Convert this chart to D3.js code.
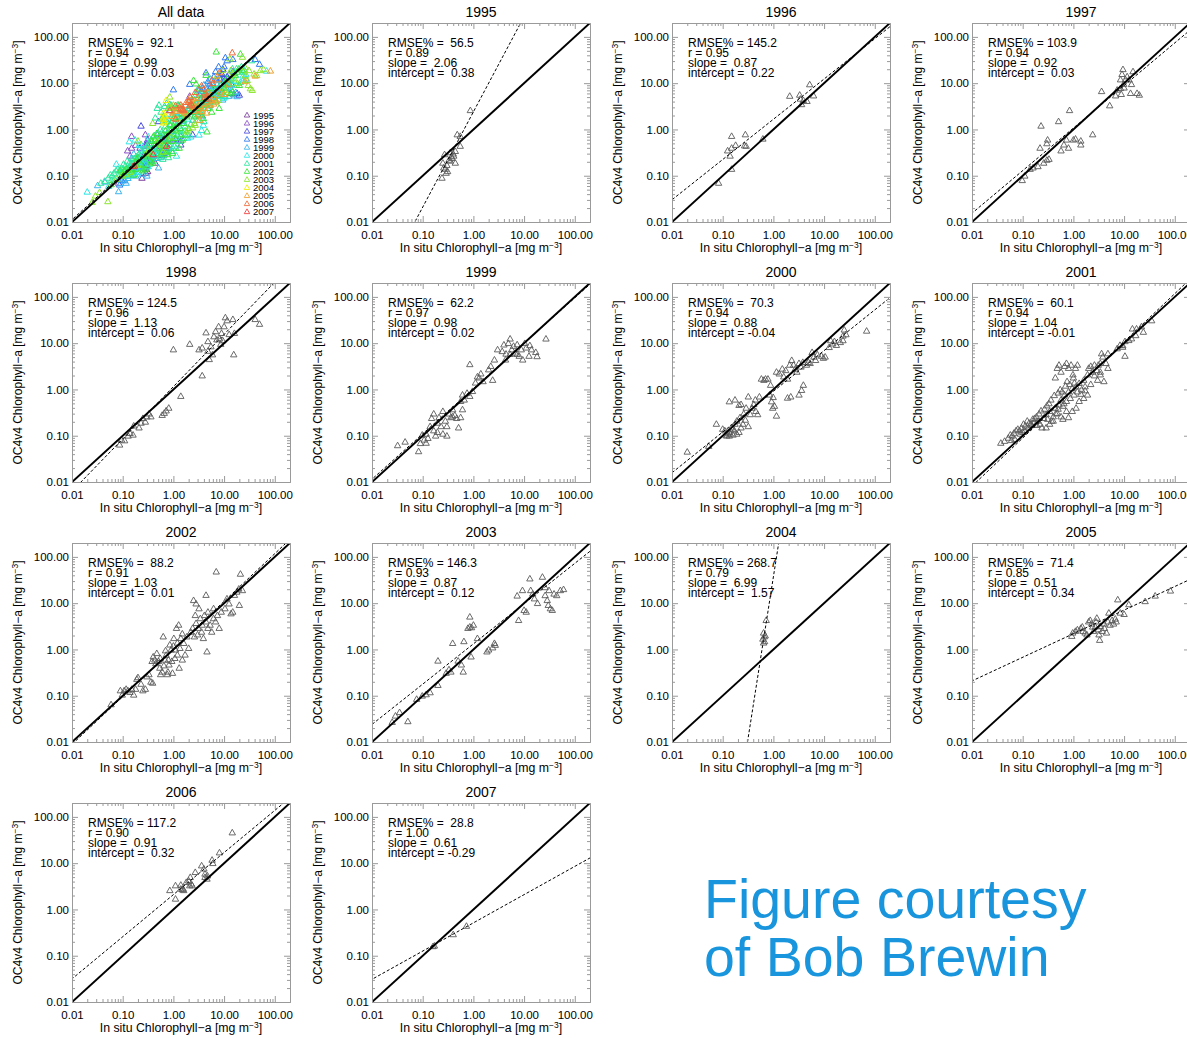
<!DOCTYPE html>
<html>
<head>
<meta charset="utf-8">
<script src="https://cdn.jsdelivr.net/npm/d3@7"></script>
<style>
  body { margin: 0; background: #fff; }
  svg text { font-family: "Liberation Sans", Arial, sans-serif; }
</style>
</head>
<body>
<svg id="chart" width="1187" height="1038"></svg>
<script>
// ---- data ----
const panelTitles = ["All data", "1995", "1996", "1997", "1998", "1999", "2000",
  "2001", "2002", "2003", "2004", "2005", "2006", "2007"];
const years = ["1995", "1996", "1997", "1998", "1999", "2000", "2001",
  "2002", "2003", "2004", "2005", "2006", "2007"];
const yearColors = ["#7a3c9a", "#8a4fc4", "#4a4ae0", "#2e78f0", "#3ab4f0", "#2ee6e6",
  "#2ee8a0", "#3ae63a", "#8ce62e", "#f0f000", "#f0a030", "#f06a3a", "#f03a3a"];
const rmse = [92.1, 56.5, 145.2, 103.9, 124.5, 62.2, 70.3, 60.1, 88.2, 146.3, 268.7, 71.4, 117.2, 28.8];
const rVals = [0.94, 0.89, 0.95, 0.94, 0.96, 0.97, 0.94, 0.94, 0.91, 0.93, 0.79, 0.85, 0.90, 1.00];
const slopes = [0.99, 2.06, 0.87, 0.92, 1.13, 0.98, 0.88, 1.04, 1.03, 0.87, 6.99, 0.51, 0.91, 0.61];
const intercepts = [0.03, 0.38, 0.22, 0.03, 0.06, 0.02, -0.04, -0.01, 0.01, 0.12, 1.57, 0.34, 0.32, -0.29];
const tickVals = [0.01, 0.1, 1, 10, 100];

const d1995 = [[0.87,2.6],[0.48,0.78],[0.55,0.72],[0.55,0.44],[0.35,0.32],[0.44,0.34],[0.41,0.27],
  [0.38,0.24],[0.33,0.22],[0.44,0.19],[0.30,0.17],[0.28,0.14],[0.31,0.125],[0.26,0.15],[0.25,0.19],
  [0.27,0.29],[0.24,0.09],[0.29,0.115],[0.35,0.21],[0.40,0.30],[0.37,0.26]];
const d1996 = [[0.083,0.07],[0.125,0.35],[0.15,0.72],[0.15,0.40],[0.18,0.46],[0.15,0.14],[0.28,0.78],
  [0.27,0.45],[0.29,0.44],[0.62,0.63],[2.1,5.3],[3.3,5.6],[3.4,4.6],[3.6,3.5],[4.6,4.1],[5.2,9.4],
  [6.2,5.4],[3.9,4.3],[0.14,0.27]];
const d1997 = [[0.098,0.08],[0.11,0.10],[0.14,0.14],[0.16,0.15],[0.20,0.16],[0.22,0.40],[0.23,1.2],
  [0.26,0.19],[0.30,0.22],[0.30,0.50],[0.31,0.60],[0.33,0.23],[0.51,1.5],[0.57,0.35],[0.65,0.47],
  [0.73,0.60],[0.80,0.40],[0.84,2.6],[1.0,0.60],[1.1,0.63],[1.4,0.57],[1.4,0.47],[2.4,0.78],[3.6,6.7],
  [5.2,3.3],[6.8,5.4],[7.3,7.2],[8.5,12],[9.1,15.7],[9.5,20],[9.8,9.6],[8.8,5.8],[10.7,12],[11.5,14],
  [12.5,12],[13.4,6.1],[15,18],[18,6.1],[20,5.6],[14,9.5],[10,8],[8.5,7.8]];
const d1998 = [[0.087,0.064],[0.095,0.082],[0.109,0.079],[0.128,0.10],[0.14,0.114],[0.16,0.105],
  [0.165,0.165],[0.21,0.15],[0.23,0.19],[0.25,0.24],[0.28,0.20],[0.30,0.26],[0.33,0.30],[0.36,0.26],
  [0.60,0.28],[0.66,0.31],[0.72,0.35],[0.81,0.40],[1.4,0.72],[1.0,7.3],[2.1,9.6],[3.7,2.0],[3.2,7.3],
  [3.7,8],[4.4,17],[4.8,6.8],[5.1,4.5],[4.8,11],[5.5,8.5],[5.9,5.7],[6.3,14],[6.8,18],[7.2,12],
  [7.8,23],[8.2,12.6],[8.6,9.6],[8.9,16.5],[9.4,11.5],[10,23],[10.6,36],[11.5,31],[12.6,15.6],
  [14.9,33],[15.5,5.7],[16,16.5],[41,33],[50,26]];
const d1999 = [[0.032,0.062],[0.045,0.074],[0.083,0.046],[0.09,0.069],[0.098,0.105],[0.107,0.082],
  [0.117,0.11],[0.127,0.089],[0.14,0.16],[0.15,0.24],[0.165,0.30],[0.165,0.13],[0.18,0.10],[0.195,0.19],
  [0.21,0.25],[0.23,0.16],[0.25,0.34],[0.28,0.21],[0.30,0.16],[0.33,0.30],[0.36,0.25],[0.39,0.37],
  [0.43,0.28],[0.47,0.24],[0.51,0.15],[0.56,0.25],[0.61,0.37],[0.117,0.07],[0.195,0.12],[0.25,0.11],
  [0.30,0.10],[0.39,0.26],[0.56,0.56],[0.66,0.60],[0.61,0.77],[0.75,0.84],[0.85,0.72],[0.96,0.92],
  [0.85,3.5],[1.1,1.4],[1.2,1.9],[1.3,1.8],[1.4,2.2],[1.55,1.5],[2.0,2.7],[2.2,3.2],[2.4,1.6],
  [2.6,4.4],[3.0,7.3],[3.7,6.7],[4.0,9.3],[4.3,4.4],[4.4,5.9],[4.9,10],[5.3,12.5],[5.7,7.3],
  [6.2,8.7],[6.7,6.2],[7.3,9.4],[8.0,5.3],[8.8,7.3],[9.4,4.4],[10.3,10],[11,8],[12.5,5.3],[13,9],
  [14,7.3],[17,6.4],[18,5.2],[27,12.5],[7.3,5.8],[5.3,5.8]];
const d2000 = [[0.02,0.045],[0.053,0.06],[0.075,0.18],[0.10,0.14],[0.11,0.13],[0.115,0.105],
  [0.125,0.115],[0.135,0.12],[0.148,0.15],[0.16,0.14],[0.175,0.18],[0.19,0.21],[0.135,0.10],
  [0.16,0.105],[0.19,0.11],[0.21,0.12],[0.23,0.15],[0.25,0.18],[0.28,0.22],[0.32,0.16],[0.135,0.55],
  [0.175,0.60],[0.21,0.46],[0.23,0.48],[0.32,0.70],[0.35,0.29],[0.38,0.40],[0.41,0.48],[0.45,0.34],
  [0.49,0.29],[0.53,0.70],[0.58,1.7],[0.65,1.6],[0.70,1.7],[0.78,1.7],[0.88,1.25],[0.84,0.77],
  [0.92,0.55],[0.97,0.40],[1.05,0.44],[1.15,0.27],[0.99,0.68],[1.15,2.4],[1.3,2.2],[1.5,2.8],
  [1.6,1.9],[1.75,2.6],[1.9,1.7],[2.1,3.4],[2.3,4.3],[2.5,3.4],[1.9,0.66],[2.2,0.70],[2.7,2.8],
  [2.9,2.4],[3.2,3.7],[3.5,3.1],[3.8,3.9],[3.2,0.77],[3.6,0.97],[3.9,1.25],[4.5,3.4],[4.9,3.9],
  [5.3,3.7],[5.8,6.4],[6.3,5.1],[6.8,4.3],[7.4,5.7],[8.9,5.3],[9.7,4.8],[10.5,5.1],[12.6,8.2],
  [13.5,11.5],[14.8,9.8],[16,11],[17.5,9.1],[20.9,10.5],[23.6,14.5],[25,19.6],[27,15.5],[23.6,11.5],
  [69,18.5],[0.12,0.10],[0.14,0.11],[0.17,0.13],[0.22,0.25],[0.26,0.30],[0.29,0.40],[0.44,0.60]];
const d2001 = [[0.037,0.07],[0.044,0.077],[0.052,0.09],[0.057,0.105],[0.062,0.10],[0.067,0.115],
  [0.074,0.13],[0.08,0.14],[0.087,0.13],[0.095,0.15],[0.104,0.18],[0.113,0.165],[0.123,0.21],
  [0.134,0.19],[0.145,0.18],[0.158,0.23],[0.172,0.24],[0.187,0.26],[0.20,0.21],[0.22,0.18],[0.24,0.15],
  [0.26,0.24],[0.29,0.29],[0.31,0.23],[0.34,0.34],[0.37,0.21],[0.40,0.26],[0.44,0.40],[0.48,0.31],
  [0.52,0.47],[0.57,0.60],[0.62,0.44],[0.67,0.77],[0.73,0.56],[0.80,0.90],[0.87,0.65],[0.95,1.07],
  [1.03,0.77],[1.13,1.16],[1.2,0.90],[1.3,1.37],[1.45,0.99],[1.6,1.6],[1.7,1.16],[1.9,2.1],[2.0,2.9],
  [2.2,3.2],[2.4,2.4],[2.6,3.4],[2.9,2.6],[3.1,3.4],[3.4,2.4],[3.6,6.0],[3.8,5.1],[4.0,1.5],[4.8,2.9],
  [3.4,3.7],[0.48,2.9],[0.52,3.4],[0.57,2.4],[0.67,3.2],[0.73,3.7],[0.80,2.9],[0.90,3.4],[0.98,2.1],
  [1.1,2.9],[1.2,3.4],[0.44,1.8],[0.29,0.15],[0.34,0.18],[0.40,0.21],[0.62,0.23],[0.80,0.25],
  [0.95,0.34],[1.13,0.40],[0.73,0.34],[0.57,0.26],[1.3,0.56],[1.6,0.65],[1.9,0.77],[14.6,20.6],
  [17.6,20.6],[22,23],[35,31],[10.4,5.3],[9.4,8.3],[9.4,9],[12.4,11.6],[14,12.6],[17,14.8],[24,17.5],
  [8.3,9.1],[7.3,7.7],[10.4,11],[4.8,6],[3.4,2.1],[4.4,3.7],[0.06,0.08],[0.07,0.085],[0.09,0.11],
  [0.1,0.12],[0.11,0.13],[0.13,0.15],[0.15,0.17],[0.17,0.2],[0.19,0.17],[0.21,0.3],[0.23,0.35],
  [0.27,0.38],[0.3,0.45],[0.33,0.5],[0.36,0.6],[0.42,0.75],[0.5,0.85],[0.55,1.0],[0.6,0.9],
  [0.7,1.2],[0.75,1.5],[0.85,1.3],[1.0,1.8],[1.05,1.4],[0.65,0.5],[0.5,0.38],[0.45,0.3],[1.4,0.8],
  [1.7,0.95],[2.2,1.3],[2.6,2.0],[3.0,1.6]];
const d2002 = [[0.059,0.065],[0.09,0.13],[0.098,0.105],[0.107,0.13],[0.117,0.14],[0.127,0.13],
  [0.139,0.12],[0.151,0.14],[0.165,0.105],[0.18,0.14],[0.19,0.23],[0.20,0.25],[0.23,0.18],[0.25,0.13],
  [0.28,0.14],[0.30,0.26],[0.33,0.29],[0.36,0.20],[0.39,0.19],[0.38,0.56],[0.40,0.70],[0.43,0.60],
  [0.47,0.83],[0.51,0.56],[0.54,0.40],[0.56,0.29],[0.60,0.33],[0.63,1.9],[0.68,0.60],[0.72,0.76],
  [0.76,0.29],[0.78,0.33],[0.82,0.47],[0.85,1.27],[0.90,0.99],[0.93,0.56],[0.96,0.31],[1.02,1.75],
  [1.07,0.65],[1.1,0.99],[1.15,2.9],[1.2,0.77],[1.27,3.4],[1.3,0.40],[1.35,1.07],[1.4,1.75],[1.5,0.60],
  [1.6,1.37],[1.7,0.77],[1.85,1.9],[2.0,1.07],[2.2,2.4],[2.4,2.9],[2.6,1.9],[2.5,11.6],[2.8,9.8],
  [2.7,5.5],[2.8,3.7],[3.0,2.1],[3.1,2.9],[3.2,7.7],[3.4,4.7],[3.6,2.4],[3.7,3.4],[3.9,1.75],
  [4.1,5.5],[4.4,4.0],[4.6,0.90],[4.8,2.9],[5.3,3.4],[5.7,2.4],[6.2,4.7],[6.8,4.0],[7.4,5.5],
  [8.0,2.9],[8.8,6.5],[4.4,15],[10.4,7.7],[11.4,12.6],[12.5,9.8],[13.7,6.0],[14.8,6.5],[16,15],
  [17.8,17.6],[19.5,20.5],[7,48],[21,43],[20,9.1],[23,19],[4.8,6.5],[6.2,7.7],[0.45,0.5],[0.55,0.65],
  [0.65,0.45],[0.7,0.95],[0.8,0.6],[1.0,1.2],[1.2,1.4],[1.5,2.2]];
const d2003 = [[0.025,0.027],[0.029,0.037],[0.035,0.044],[0.051,0.028],[0.076,0.085],[0.098,0.10],
  [0.117,0.107],[0.14,0.118],[0.20,0.17],[0.20,0.57],[0.29,0.31],[0.33,0.37],[0.36,0.33],[0.39,1.37],
  [0.50,0.57],[0.58,0.47],[0.65,1.5],[0.63,0.33],[0.85,5.1],[0.78,2.9],[0.85,3.1],[0.92,3.0],[1.0,3.4],
  [0.90,0.70],[1.2,1.75],[1.85,0.90],[2.0,0.99],[2.4,1.1],[2.6,1.37],[2.7,1.25],[7.3,14.5],[9.3,19],
  [7.8,4.3],[10,7.1],[11,6.5],[13,34],[13.5,19],[14.8,16],[16,12.6],[18.4,10],[23,37],[26,14.8],
  [28.6,11.6],[31,19],[33,7.7],[36,7.1],[30,9.1],[39,16],[44,14.8],[52,19],[60,20],[26,22]];
const d2004 = [[0.72,4.3],[0.64,2.3],[0.66,1.9],[0.62,1.7],[0.67,1.5],[0.64,1.4],[0.69,2.0]];
const d2005 = [[0.93,1.95],[0.97,2.3],[1.1,2.5],[1.2,2.7],[1.4,2.9],[1.5,3.1],[1.55,2.5],[1.7,2.3],
  [1.85,2.1],[2.0,4.0],[2.15,4.3],[2.3,3.6],[2.4,3.1],[2.5,2.5],[2.7,3.1],[2.8,4.0],[2.9,4.8],[3.1,2.7],
  [3.2,2.1],[3.3,1.6],[3.4,3.2],[3.7,2.5],[4.0,3.6],[4.1,2.9],[4.5,2.3],[4.8,4.0],[5.0,6.2],[5.3,3.4],
  [5.8,4.3],[6.2,3.6],[6.7,4.6],[7.0,4.0],[7.5,12],[8.4,6.2],[10,5.8],[12.4,9.4],[26,11],[41,14.5],
  [82,18.6]];
const d2006 = [[0.85,2.6],[1.1,3.3],[1.1,1.7],[1.4,3.4],[1.5,2.7],[1.55,2.8],[1.6,2.6],[1.4,2.8],
  [1.8,3.9],[2.0,4.2],[2.1,3.3],[2.25,3.6],[2.35,3.3],[2.15,5.0],[2.7,6.4],[3.6,8.9],[4.0,7.6],
  [4.2,5.0],[4.6,4.6],[4.7,5.4],[4.2,5.9],[5.8,11.8],[6.0,10],[8.1,17],[14.5,46]];
const d2007 = [[0.16,0.16],[0.17,0.165],[0.40,0.29],[0.73,0.44]];

const yearData = [d1995, d1996, d1997, d1998, d1999, d2000, d2001, d2002, d2003, d2004, d2005, d2006, d2007];

// ---- layout ----
const CONFIG = {
  left0: 72, top0: 23, colStep: 300, rowStep: 260,
  w: 218, h: 199,
  axisColor: "#9a9a9a",
  pointColor: "#5a5a5a"
};
const domainMax = Math.pow(10, 2.3);

const svg = d3.select("#chart");

// minor log ticks
const minorVals = [];
for (let k = -2; k <= 2; k++) {
  for (let m = 2; m <= 9; m++) {
    const v = m * Math.pow(10, k);
    if (v <= domainMax) minorVals.push(v);
  }
}

const triangle = "M0,-3.2L3.2,2.4L-3.2,2.4Z";

function fmtStats(i) {
  return [
    "RMSE% = " + rmse[i].toFixed(1).padStart(5, " "),
    "r = " + rVals[i].toFixed(2),
    "slope = " + slopes[i].toFixed(2).padStart(5, " "),
    "intercept = " + intercepts[i].toFixed(2).padStart(5, " ")
  ];
}

function drawPanel(i) {
  const col = i % 4, row = Math.floor(i / 4);
  const ox = CONFIG.left0 + col * CONFIG.colStep;
  const oy = CONFIG.top0 + row * CONFIG.rowStep;
  const w = CONFIG.w, h = CONFIG.h;

  const x = d3.scaleLog().domain([0.01, domainMax]).range([0, w]);
  const y = d3.scaleLog().domain([0.01, domainMax]).range([h, 0]);

  const g = svg.append("g")
    .attr("id", "panel" + i)
    .attr("transform", "translate(" + ox + "," + oy + ")");

  g.append("clipPath").attr("id", "clip" + i)
    .append("rect").attr("width", w).attr("height", h);

  // title
  g.append("text")
    .attr("x", w / 2).attr("y", -6)
    .attr("text-anchor", "middle")
    .attr("font-size", 14)
    .text(panelTitles[i]);

  // points
  const pts = g.append("g").attr("clip-path", "url(#clip" + i + ")");
  if (i === 0) {
    yearData.forEach((data, yi) => {
      pts.selectAll(null)
        .data(data)
        .enter()
        .append("path")
        .attr("d", triangle)
        .attr("transform", (d) => "translate(" + x(d[0]) + "," + y(d[1]) + ")")
        .attr("fill", "none")
        .attr("stroke", yearColors[yi])
        .attr("stroke-width", 1);
    });
  } else {
    pts.selectAll(null)
      .data(yearData[i - 1])
      .enter()
      .append("path")
      .attr("d", triangle)
      .attr("transform", (d) => "translate(" + x(d[0]) + "," + y(d[1]) + ")")
      .attr("fill", "none")
      .attr("stroke", CONFIG.pointColor)
      .attr("stroke-width", 0.9);
  }

  // 1:1 line
  const lines = g.append("g").attr("clip-path", "url(#clip" + i + ")");
  lines.append("line")
    .attr("x1", x(0.01)).attr("y1", y(0.01))
    .attr("x2", x(domainMax)).attr("y2", y(domainMax))
    .attr("stroke", "#000")
    .attr("stroke-width", 2);

  // regression line, log10(y) = intercept + slope * log10(x)
  const fit = (v) => Math.pow(10, intercepts[i] + slopes[i] * Math.log10(v));
  const lo = 0.001, hi = 1000;
  lines.append("line")
    .attr("x1", x(lo)).attr("y1", y(fit(lo)))
    .attr("x2", x(hi)).attr("y2", y(fit(hi)))
    .attr("stroke", "#000")
    .attr("stroke-width", 1)
    .attr("stroke-dasharray", "3,2");

  // axes
  const fmt = d3.format(".2f");
  const styleAxis = (sel) => {
    sel.attr("font-family", "Liberation Sans, Arial, sans-serif").attr("font-size", 11.5);
    sel.selectAll(".domain").attr("stroke", CONFIG.axisColor);
    sel.selectAll("line").attr("stroke", CONFIG.axisColor);
    sel.selectAll("text").attr("fill", "#000");
  };

  g.append("g").attr("transform", "translate(0," + h + ")")
    .call(d3.axisBottom(x).tickValues(tickVals).tickSize(-6).tickSizeOuter(0).tickPadding(9).tickFormat(fmt))
    .call(styleAxis);
  g.append("g").attr("transform", "translate(0," + h + ")")
    .call(d3.axisBottom(x).tickValues(minorVals).tickSize(-3).tickSizeOuter(0).tickFormat(""))
    .call(styleAxis);
  g.append("g")
    .call(d3.axisTop(x).tickValues(tickVals).tickSize(-6).tickSizeOuter(0).tickFormat(""))
    .call(styleAxis);
  g.append("g")
    .call(d3.axisTop(x).tickValues(minorVals).tickSize(-3).tickSizeOuter(0).tickFormat(""))
    .call(styleAxis);
  g.append("g")
    .call(d3.axisLeft(y).tickValues(tickVals).tickSize(-6).tickSizeOuter(0).tickPadding(3).tickFormat(fmt))
    .call(styleAxis);
  g.append("g")
    .call(d3.axisLeft(y).tickValues(minorVals).tickSize(-3).tickSizeOuter(0).tickFormat(""))
    .call(styleAxis);
  g.append("g").attr("transform", "translate(" + w + ",0)")
    .call(d3.axisRight(y).tickValues(tickVals).tickSize(-6).tickSizeOuter(0).tickFormat(""))
    .call(styleAxis);
  g.append("g").attr("transform", "translate(" + w + ",0)")
    .call(d3.axisRight(y).tickValues(minorVals).tickSize(-3).tickSizeOuter(0).tickFormat(""))
    .call(styleAxis);

  // axis titles
  const xt = g.append("text")
    .attr("x", w / 2).attr("y", h + 30)
    .attr("text-anchor", "middle")
    .attr("font-size", 12.3);
  xt.append("tspan").text("In situ Chlorophyll\u2212a [mg m");
  xt.append("tspan").attr("dy", -4).attr("font-size", 8.5).text("\u22123");
  xt.append("tspan").attr("dy", 4).text("]");

  const yt = g.append("text")
    .attr("transform", "translate(" + (-50) + "," + (h / 2) + ") rotate(-90)")
    .attr("text-anchor", "middle")
    .attr("font-size", 12);
  yt.append("tspan").text("OC4v4  Chlorophyll\u2212a [mg m");
  yt.append("tspan").attr("dy", -4).attr("font-size", 8.5).text("\u22123");
  yt.append("tspan").attr("dy", 4).text("]");

  // stats
  g.append("g").selectAll("text")
    .data(fmtStats(i))
    .enter()
    .append("text")
    .attr("x", 16)
    .attr("y", (d, k) => 24 + k * 10)
    .attr("font-size", 12)
    .style("white-space", "pre")
    .text((d) => d);

  // legend in the All data panel
  if (i === 0) {
    const lg = g.append("g").attr("transform", "translate(175,92)");
    years.forEach((yr, k) => {
      lg.append("path")
        .attr("d", triangle)
        .attr("transform", "translate(0," + (k * 8.05) + ") scale(0.85)")
        .attr("fill", "none")
        .attr("stroke", yearColors[k]);
      lg.append("text")
        .attr("x", 6).attr("y", k * 8.05 + 3.5)
        .attr("font-size", 9.5)
        .text(yr);
    });
  }
}

panelTitles.forEach((t, i) => drawPanel(i));

// credit
const credit = svg.append("text")
  .attr("x", 704)
  .attr("y", 918)
  .attr("font-family", "Open Sans, sans-serif")
  .attr("font-size", 55.5)
  .attr("fill", "#1895dc");
credit.append("tspan").attr("x", 704).text("Figure courtesy");
credit.append("tspan").attr("x", 704).attr("dy", 58).text("of Bob Brewin");
</script>
</body>
</html>
